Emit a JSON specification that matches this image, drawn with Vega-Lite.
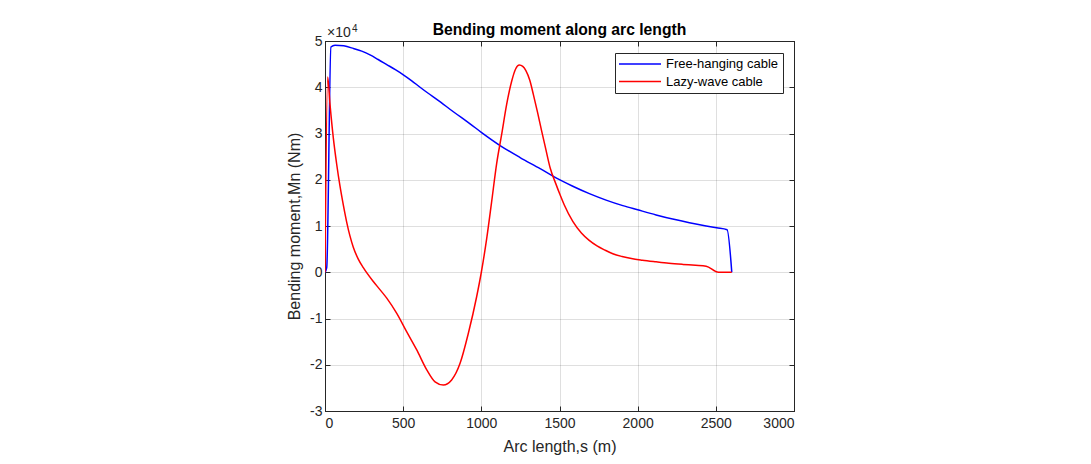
{
  "$schema": "https://vega.github.io/schema/vega-lite/v6.json",
  "autosize": {"type": "none"},
  "padding": {"left": 325, "top": 41, "right": 297, "bottom": 53},
  "width": 469,
  "height": 370,
  "background": "white",
  "config": {
    "font": "Liberation Sans",
    "view": {"stroke": "#262626", "strokeWidth": 1},
    "axis": {
      "domainColor": "#262626",
      "tickColor": "#262626",
      "tickSize": -5,
      "labelColor": "#262626",
      "labelFontSize": 14,
      "labelFont": "Liberation Sans",
      "titleFont": "Liberation Sans",
      "titleFontSize": 16,
      "titleFontWeight": "normal",
      "titleColor": "#262626",
      "gridColor": "#262626",
      "gridOpacity": 0.15
    }
  },
  "title": {
    "text": "Bending moment along arc length",
    "fontSize": 15.7,
    "fontWeight": "bold",
    "color": "#000000",
    "font": "Liberation Sans",
    "offset": -15,
    "anchor": "middle"
  },
  "datasets": {
    "curves": [
      {"s": 0, "Mn": 0, "cable": "Free-hanging cable"},
      {"s": 11, "Mn": 1000, "cable": "Free-hanging cable"},
      {"s": 38, "Mn": 48700, "cable": "Free-hanging cable"},
      {"s": 64, "Mn": 49100, "cable": "Free-hanging cable"},
      {"s": 120, "Mn": 48950, "cable": "Free-hanging cable"},
      {"s": 181, "Mn": 48400, "cable": "Free-hanging cable"},
      {"s": 235, "Mn": 47800, "cable": "Free-hanging cable"},
      {"s": 288, "Mn": 47000, "cable": "Free-hanging cable"},
      {"s": 340, "Mn": 46000, "cable": "Free-hanging cable"},
      {"s": 395, "Mn": 44900, "cable": "Free-hanging cable"},
      {"s": 450, "Mn": 43800, "cable": "Free-hanging cable"},
      {"s": 501, "Mn": 42700, "cable": "Free-hanging cable"},
      {"s": 555, "Mn": 41400, "cable": "Free-hanging cable"},
      {"s": 608, "Mn": 40000, "cable": "Free-hanging cable"},
      {"s": 660, "Mn": 38700, "cable": "Free-hanging cable"},
      {"s": 715, "Mn": 37400, "cable": "Free-hanging cable"},
      {"s": 821, "Mn": 34700, "cable": "Free-hanging cable"},
      {"s": 928, "Mn": 32100, "cable": "Free-hanging cable"},
      {"s": 1002, "Mn": 30200, "cable": "Free-hanging cable"},
      {"s": 1120, "Mn": 27400, "cable": "Free-hanging cable"},
      {"s": 1248, "Mn": 24800, "cable": "Free-hanging cable"},
      {"s": 1376, "Mn": 22400, "cable": "Free-hanging cable"},
      {"s": 1478, "Mn": 20400, "cable": "Free-hanging cable"},
      {"s": 1585, "Mn": 18600, "cable": "Free-hanging cable"},
      {"s": 1691, "Mn": 17000, "cable": "Free-hanging cable"},
      {"s": 1798, "Mn": 15600, "cable": "Free-hanging cable"},
      {"s": 1905, "Mn": 14400, "cable": "Free-hanging cable"},
      {"s": 2000, "Mn": 13500, "cable": "Free-hanging cable"},
      {"s": 2118, "Mn": 12400, "cable": "Free-hanging cable"},
      {"s": 2224, "Mn": 11500, "cable": "Free-hanging cable"},
      {"s": 2331, "Mn": 10700, "cable": "Free-hanging cable"},
      {"s": 2438, "Mn": 10000, "cable": "Free-hanging cable"},
      {"s": 2505, "Mn": 9600, "cable": "Free-hanging cable"},
      {"s": 2572, "Mn": 9200, "cable": "Free-hanging cable"},
      {"s": 2602, "Mn": 0, "cable": "Free-hanging cable"},
      {"s": 0, "Mn": 0, "cable": "Lazy-wave cable"},
      {"s": 17, "Mn": 42200, "cable": "Lazy-wave cable"},
      {"s": 32, "Mn": 36300, "cable": "Lazy-wave cable"},
      {"s": 53, "Mn": 29100, "cable": "Lazy-wave cable"},
      {"s": 75, "Mn": 23300, "cable": "Lazy-wave cable"},
      {"s": 96, "Mn": 18600, "cable": "Lazy-wave cable"},
      {"s": 118, "Mn": 14400, "cable": "Lazy-wave cable"},
      {"s": 139, "Mn": 10800, "cable": "Lazy-wave cable"},
      {"s": 160, "Mn": 7800, "cable": "Lazy-wave cable"},
      {"s": 181, "Mn": 5400, "cable": "Lazy-wave cable"},
      {"s": 212, "Mn": 2900, "cable": "Lazy-wave cable"},
      {"s": 245, "Mn": 1000, "cable": "Lazy-wave cable"},
      {"s": 309, "Mn": -2000, "cable": "Lazy-wave cable"},
      {"s": 350, "Mn": -3700, "cable": "Lazy-wave cable"},
      {"s": 395, "Mn": -5600, "cable": "Lazy-wave cable"},
      {"s": 459, "Mn": -8900, "cable": "Lazy-wave cable"},
      {"s": 523, "Mn": -12900, "cable": "Lazy-wave cable"},
      {"s": 587, "Mn": -16800, "cable": "Lazy-wave cable"},
      {"s": 651, "Mn": -21100, "cable": "Lazy-wave cable"},
      {"s": 704, "Mn": -23700, "cable": "Lazy-wave cable"},
      {"s": 757, "Mn": -24400, "cable": "Lazy-wave cable"},
      {"s": 810, "Mn": -23300, "cable": "Lazy-wave cable"},
      {"s": 864, "Mn": -19700, "cable": "Lazy-wave cable"},
      {"s": 917, "Mn": -13200, "cable": "Lazy-wave cable"},
      {"s": 970, "Mn": -5300, "cable": "Lazy-wave cable"},
      {"s": 1000, "Mn": 0, "cable": "Lazy-wave cable"},
      {"s": 1034, "Mn": 7200, "cable": "Lazy-wave cable"},
      {"s": 1065, "Mn": 15000, "cable": "Lazy-wave cable"},
      {"s": 1098, "Mn": 23500, "cable": "Lazy-wave cable"},
      {"s": 1130, "Mn": 29800, "cable": "Lazy-wave cable"},
      {"s": 1162, "Mn": 36300, "cable": "Lazy-wave cable"},
      {"s": 1194, "Mn": 41300, "cable": "Lazy-wave cable"},
      {"s": 1220, "Mn": 44000, "cable": "Lazy-wave cable"},
      {"s": 1243, "Mn": 44800, "cable": "Lazy-wave cable"},
      {"s": 1265, "Mn": 44500, "cable": "Lazy-wave cable"},
      {"s": 1285, "Mn": 43600, "cable": "Lazy-wave cable"},
      {"s": 1310, "Mn": 41500, "cable": "Lazy-wave cable"},
      {"s": 1333, "Mn": 38400, "cable": "Lazy-wave cable"},
      {"s": 1360, "Mn": 34500, "cable": "Lazy-wave cable"},
      {"s": 1386, "Mn": 30500, "cable": "Lazy-wave cable"},
      {"s": 1413, "Mn": 26500, "cable": "Lazy-wave cable"},
      {"s": 1440, "Mn": 22600, "cable": "Lazy-wave cable"},
      {"s": 1478, "Mn": 19000, "cable": "Lazy-wave cable"},
      {"s": 1503, "Mn": 16800, "cable": "Lazy-wave cable"},
      {"s": 1530, "Mn": 14600, "cable": "Lazy-wave cable"},
      {"s": 1585, "Mn": 11000, "cable": "Lazy-wave cable"},
      {"s": 1640, "Mn": 8500, "cable": "Lazy-wave cable"},
      {"s": 1690, "Mn": 6900, "cable": "Lazy-wave cable"},
      {"s": 1740, "Mn": 5700, "cable": "Lazy-wave cable"},
      {"s": 1790, "Mn": 4800, "cable": "Lazy-wave cable"},
      {"s": 1841, "Mn": 4000, "cable": "Lazy-wave cable"},
      {"s": 1900, "Mn": 3400, "cable": "Lazy-wave cable"},
      {"s": 1960, "Mn": 2950, "cable": "Lazy-wave cable"},
      {"s": 2030, "Mn": 2600, "cable": "Lazy-wave cable"},
      {"s": 2118, "Mn": 2250, "cable": "Lazy-wave cable"},
      {"s": 2200, "Mn": 1950, "cable": "Lazy-wave cable"},
      {"s": 2288, "Mn": 1700, "cable": "Lazy-wave cable"},
      {"s": 2370, "Mn": 1500, "cable": "Lazy-wave cable"},
      {"s": 2438, "Mn": 1300, "cable": "Lazy-wave cable"},
      {"s": 2517, "Mn": 0, "cable": "Lazy-wave cable"},
      {"s": 2602, "Mn": 0, "cable": "Lazy-wave cable"}
    ],
    "multiplier": [
      {"s": 0, "Mn": 50000, "base": "×10", "exponent": "4"}
    ]
  },
  "layer": [
    {
      "data": {"name": "curves"},
      "mark": {"type": "line", "strokeWidth": 1.5, "clip": true, "interpolate": "monotone"},
      "encoding": {
        "x": {
          "field": "s",
          "type": "quantitative",
          "scale": {"domain": [0, 3000], "nice": false, "zero": false},
          "axis": {
            "orient": "bottom",
            "values": [0, 500, 1000, 1500, 2000, 2500, 3000],
            "format": "d",
            "labelPadding": 10,
            "title": "Arc length,s (m)",
            "titlePadding": 8,
            "grid": true
          }
        },
        "y": {
          "field": "Mn",
          "type": "quantitative",
          "scale": {"domain": [-30000, 50000], "nice": false, "zero": false},
          "axis": {
            "orient": "left",
            "values": [-30000, -20000, -10000, 0, 10000, 20000, 30000, 40000, 50000],
            "labelExpr": "datum.value / 10000",
            "labelPadding": 8,
            "title": "Bending moment,Mn (Nm)",
            "titlePadding": 7,
            "grid": true
          }
        },
        "color": {
          "field": "cable",
          "type": "nominal",
          "scale": {"domain": ["Free-hanging cable", "Lazy-wave cable"], "range": ["#0000ff", "#ff0000"]},
          "legend": {
            "orient": "none",
            "legendX": 290,
            "legendY": 12,
            "title": null,
            "symbolType": "M-3.5,0H3.5",
            "symbolSize": 144,
            "symbolStrokeWidth": 1.5,
            "symbolOffset": 14,
            "labelFontSize": 13,
            "labelColor": "#000000",
            "labelFont": "Liberation Sans",
            "labelOffset": 19,
            "padding": 4,
            "strokeColor": "#262626",
            "fillColor": "white",
            "rowPadding": 3.5
          }
        }
      }
    },
    {
      "data": {"name": "multiplier"},
      "mark": {"type": "text", "align": "left", "baseline": "alphabetic", "dx": 2, "dy": -4, "fontSize": 14, "color": "#262626", "font": "Liberation Sans"},
      "encoding": {
        "x": {
          "field": "s",
          "type": "quantitative",
          "axis": {"orient": "top", "values": [0, 500, 1000, 1500, 2000, 2500, 3000], "labels": false, "grid": false, "title": null}
        },
        "y": {
          "field": "Mn",
          "type": "quantitative",
          "axis": {"orient": "right", "values": [-30000, -20000, -10000, 0, 10000, 20000, 30000, 40000, 50000], "labels": false, "grid": false, "title": null}
        },
        "text": {"field": "base"}
      }
    },
    {
      "data": {"name": "multiplier"},
      "mark": {"type": "text", "align": "left", "baseline": "alphabetic", "dx": 27, "dy": -9.5, "fontSize": 10, "color": "#262626", "font": "Liberation Sans"},
      "encoding": {
        "x": {"field": "s", "type": "quantitative", "axis": null},
        "y": {"field": "Mn", "type": "quantitative", "axis": null},
        "text": {"field": "exponent"}
      }
    }
  ],
  "resolve": {"axis": {"x": "independent", "y": "independent"}}
}
